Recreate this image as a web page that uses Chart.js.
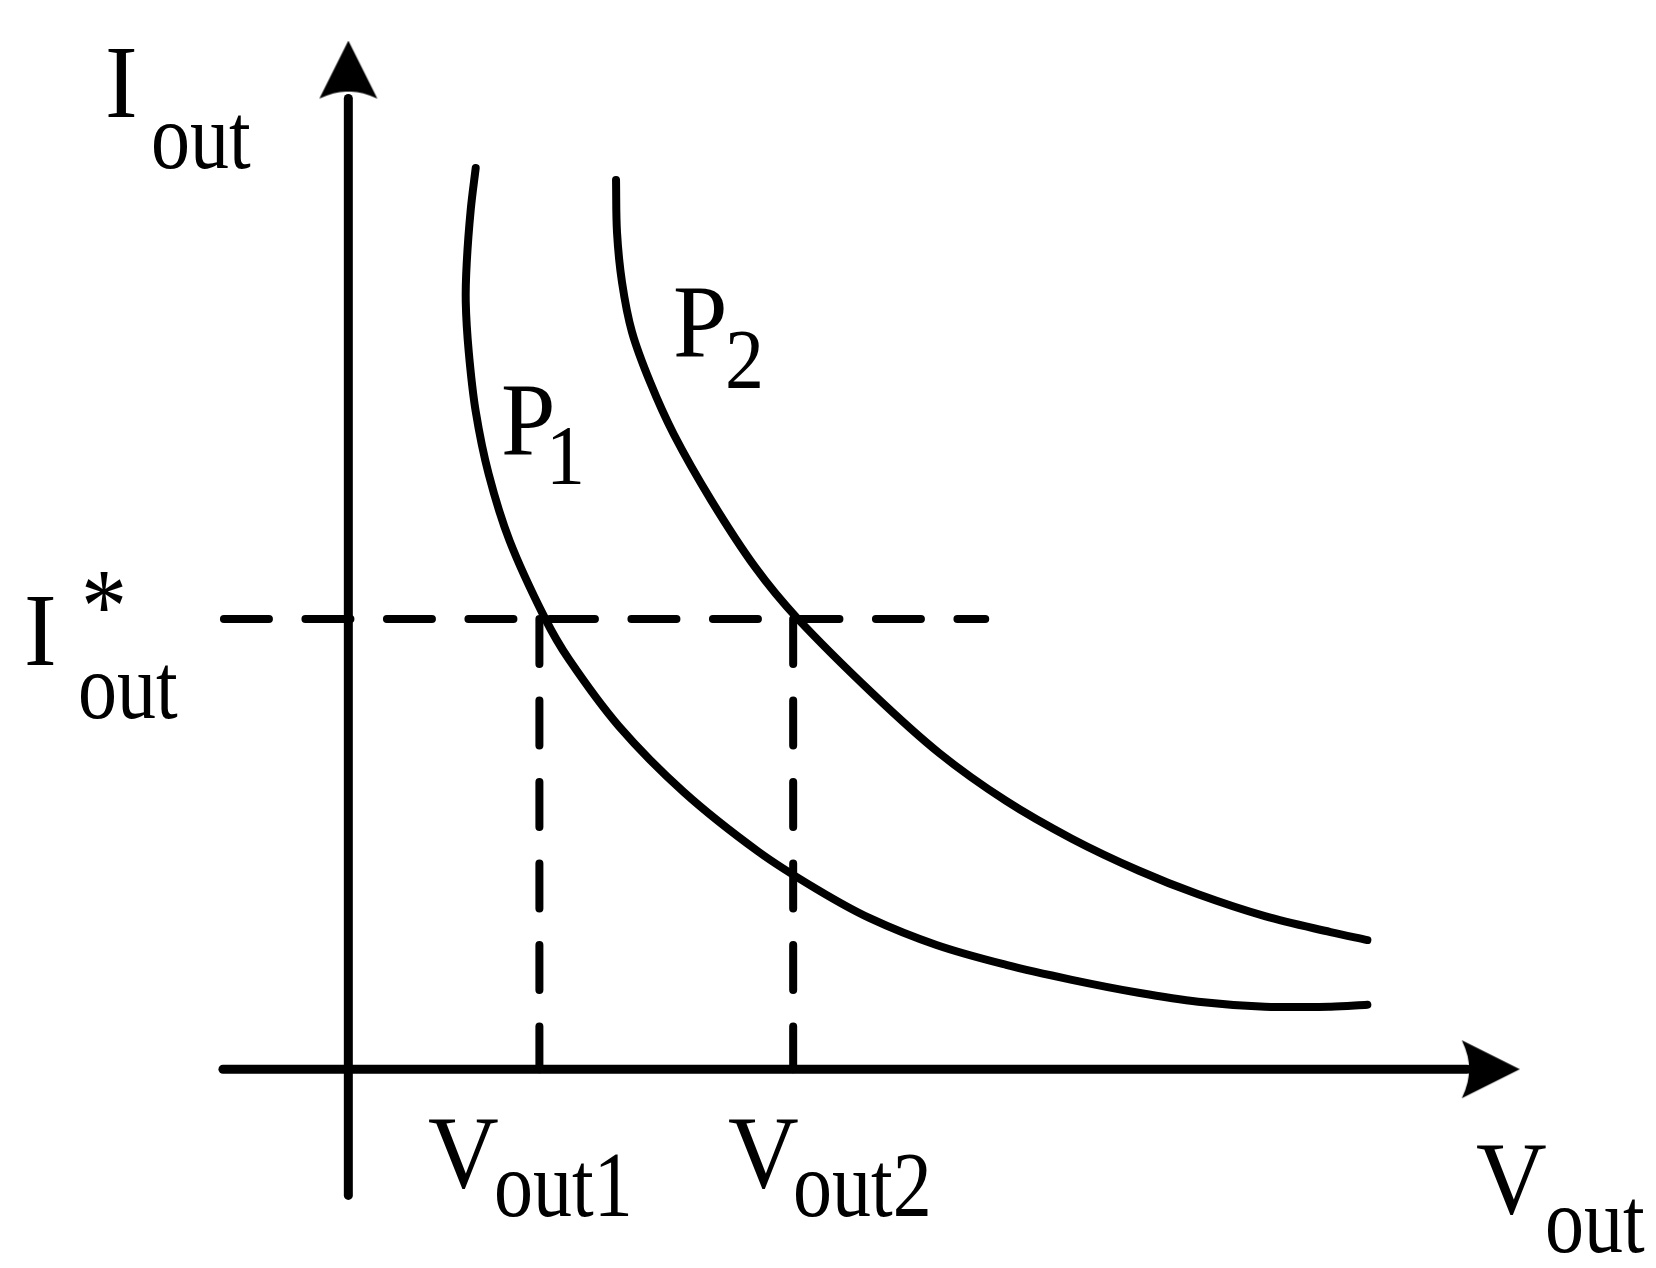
<!DOCTYPE html>
<html>
<head>
<meta charset="utf-8">
<script src="https://cdn.jsdelivr.net/npm/chart.js@4.4.1/dist/chart.umd.min.js"></script>
<style>
  html, body { margin: 0; padding: 0; background: #fff; }
  canvas { display: block; }
</style>
</head>
<body>
<canvas id="powerChart" width="1656" height="1268"></canvas>
<script>
/* =======================
   DATA (arbitrary units, origin at the axes crossing)
======================= */
const p1Volt = [1.28, 1.23, 1.19, 1.18, 1.21, 1.28, 1.41, 1.62, 1.97, 2.22, 2.72, 3.37, 4.12, 4.71, 5.24, 5.91, 6.61, 7.27, 7.94, 8.54, 9.21, 9.87, 10.24];
const p1Curr = [9.07, 8.65, 8.12, 7.72, 7.22, 6.62, 5.99, 5.32, 4.55, 4.12, 3.45, 2.79, 2.19, 1.81, 1.52, 1.25, 1.05, 0.90, 0.77, 0.68, 0.63, 0.63, 0.65];

const p2Volt = [2.69, 2.70, 2.75, 2.85, 3.03, 3.27, 3.65, 4.09, 4.51, 5.27, 5.94, 6.61, 7.27, 7.94, 8.54, 9.21, 9.87, 10.24];
const p2Curr = [8.95, 8.42, 7.92, 7.42, 6.92, 6.39, 5.72, 5.05, 4.54, 3.78, 3.18, 2.70, 2.32, 2.00, 1.76, 1.54, 1.38, 1.30];

const refCurrent = 4.53;           // I*out
const refVoltages = [1.92, 4.47];  // Vout1, Vout2

const xAxisRange = [-1.26, 11.24];
const yAxisRange = [-1.27, 9.77];
const dashRange = [-1.25, 6.40];

const xArrowAt = 11.47;
const yArrowAt = 10.05;

/* =======================
   ARROW HEADS
======================= */
function arrowHead(dir) {
    const c = document.createElement("canvas");
    c.width = 60;
    c.height = 60;
    const g = c.getContext("2d");
    g.fillStyle = "#000";
    g.beginPath();
    if (dir === "up") {
        g.moveTo(30, 0);
        g.lineTo(59, 58);
        g.quadraticCurveTo(42, 50, 30, 51);
        g.quadraticCurveTo(18, 50, 1, 58);
    } else {
        g.moveTo(60, 30);
        g.lineTo(2, 59);
        g.quadraticCurveTo(10, 42, 9, 30);
        g.quadraticCurveTo(10, 18, 2, 1);
    }
    g.closePath();
    g.fill();
    return c;
}

/* =======================
   LABELS
======================= */
const SERIF = '"Liberation Serif", "Times New Roman", serif';
const MAIN = { size: 98, sy: 1.06 };
const SUB = { size: 78, sy: 1.2 };
const DIGIT = { size: 78, sy: 1.08 };

const labels = [
    { t: "I", x: 108, y: 117, f: MAIN },
    { t: "out", x: 153, y: 168, f: SUB },
    { t: "I", x: 27, y: 665, f: MAIN },
    { t: "*", x: 85, top: 573, f: { size: 92, sy: 1.15 } },
    { t: "out", x: 80, y: 718, f: SUB },
    { t: "V", x: 429, y: 1187, f: MAIN },
    { t: "out1", x: 496, y: 1216, f: SUB },
    { t: "V", x: 729, y: 1187, f: MAIN },
    { t: "out2", x: 795, y: 1216, f: SUB },
    { t: "V", x: 1477, y: 1213, f: MAIN },
    { t: "out", x: 1547, y: 1252, f: SUB },
    { t: "P", x: 503, y: 455, f: MAIN },
    { t: "1", x: 552, y: 484, f: DIGIT },
    { t: "P", x: 675, y: 357, f: MAIN },
    { t: "2", x: 728, y: 388, f: DIGIT }
];

const labelPlugin = {
    id: "labels",
    afterDraw(chart) {
        const ctx = chart.ctx;
        ctx.save();
        ctx.fillStyle = "#000";
        ctx.textBaseline = "alphabetic";
        ctx.textAlign = "left";
        labels.forEach(l => {
            ctx.font = l.f.size + "px " + SERIF;
            const m = ctx.measureText(l.t);
            const x = l.x + m.actualBoundingBoxLeft;
            const y = l.top !== undefined ? l.top + m.actualBoundingBoxAscent * l.f.sy : l.y;
            ctx.save();
            ctx.translate(x, y);
            ctx.scale(1, l.f.sy);
            ctx.fillText(l.t, 0, 0);
            ctx.restore();
        });
        ctx.restore();
    }
};

/* make sure the bezier control points are in place before the lines are drawn */
const smoothPlugin = {
    id: "smooth",
    beforeDatasetsDraw(chart) {
        chart.getSortedVisibleDatasetMetas().forEach(meta => {
            const line = meta.dataset;
            if (line && typeof line.updateControlPoints === "function") {
                line.updateControlPoints(chart.chartArea, "x");
            }
        });
    }
};

/* =======================
   CHART
======================= */
const toPoints = (xs, ys) => xs.map((v, i) => ({ x: v, y: ys[i] }));

const solid = { borderColor: "#000", borderWidth: 9, pointRadius: 0, borderCapStyle: "round", tension: 0, fill: false };
const dashed = { borderColor: "#000", borderWidth: 8, pointRadius: 0, borderCapStyle: "round", borderDash: [45, 36.5], tension: 0, fill: false };
const curve = { borderColor: "#000", borderWidth: 8, pointRadius: 0, borderCapStyle: "round", borderJoinStyle: "round", tension: 0.35, fill: false };
const arrow = { showLine: false, borderWidth: 0, pointRadius: 1 };

new Chart(document.getElementById("powerChart"), {
    type: "line",
    data: {
        datasets: [
            { ...solid, label: "x axis", data: [{ x: xAxisRange[0], y: 0 }, { x: xAxisRange[1], y: 0 }] },
            { ...solid, label: "y axis", data: [{ x: 0, y: yAxisRange[0] }, { x: 0, y: yAxisRange[1] }] },
            { ...dashed, label: "I*out", data: [{ x: dashRange[0], y: refCurrent }, { x: dashRange[1], y: refCurrent }] },
            { ...dashed, label: "Vout1", data: [{ x: refVoltages[0], y: refCurrent }, { x: refVoltages[0], y: 0 }] },
            { ...dashed, label: "Vout2", data: [{ x: refVoltages[1], y: refCurrent }, { x: refVoltages[1], y: 0 }] },
            { ...curve, label: "P1", data: toPoints(p1Volt, p1Curr) },
            { ...curve, label: "P2", data: toPoints(p2Volt, p2Curr) },
            { ...arrow, label: "x arrow", data: [{ x: xArrowAt, y: 0 }], pointStyle: arrowHead("right") },
            { ...arrow, label: "y arrow", data: [{ x: 0, y: yArrowAt }], pointStyle: arrowHead("up") }
        ]
    },
    options: {
        responsive: false,
        animation: false,
        devicePixelRatio: 1,
        layout: { padding: 0 },
        plugins: {
            legend: { display: false },
            tooltip: { enabled: false }
        },
        scales: {
            x: { type: "linear", min: -3.46, max: 13.10, display: false },
            y: { type: "linear", min: -1.96, max: 10.72, display: false }
        }
    },
    plugins: [smoothPlugin, labelPlugin]
});
</script>
</body>
</html>
